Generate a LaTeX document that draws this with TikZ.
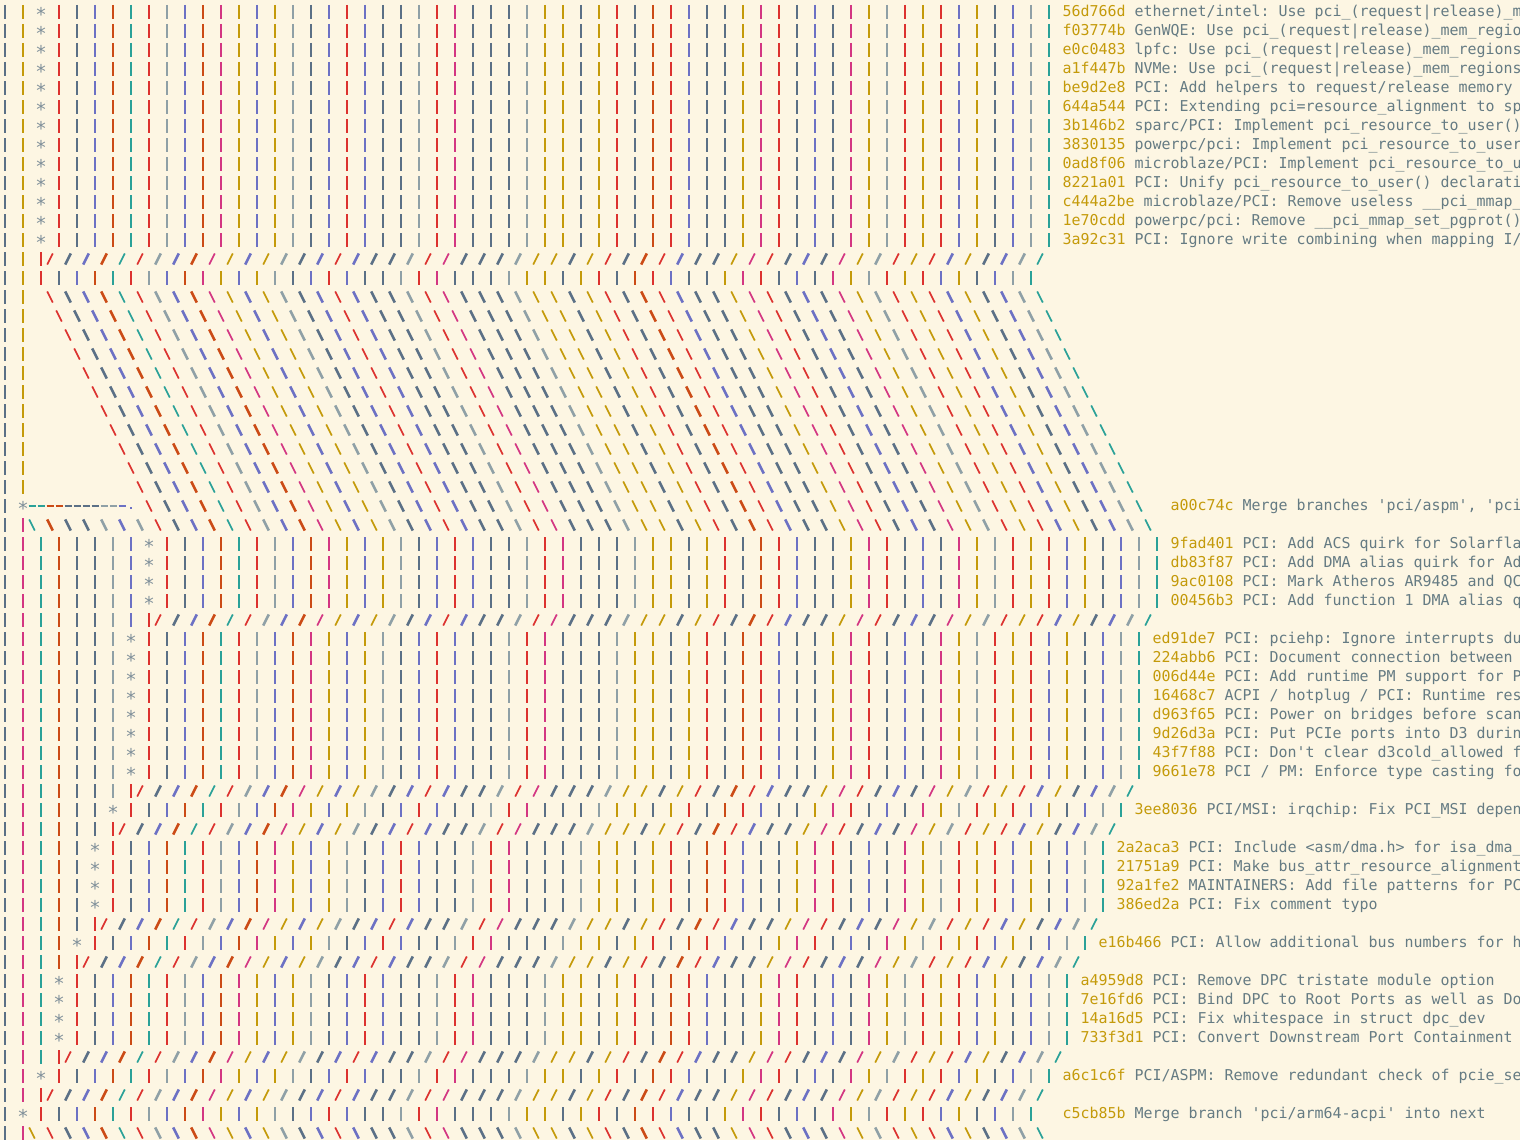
\documentclass[tikz,border=0pt]{standalone}
\usepackage{fontspec}
\newfontfamily\gitfont{DejaVu Sans Mono}
\definecolor{paper}{HTML}{FDF6E3}
\definecolor{slate}{HTML}{5B7086}
\definecolor{ash}{HTML}{8FA0A6}
\definecolor{amber}{HTML}{C49A0A}
\definecolor{crimson}{HTML}{DC322F}
\definecolor{iris}{HTML}{6C71C4}
\definecolor{rust}{HTML}{CB4B16}
\definecolor{jade}{HTML}{2AA198}
\definecolor{rose}{HTML}{D33682}
\definecolor{ink}{HTML}{657B83}
\definecolor{pebble}{HTML}{7F8F99}
\tikzset{
    lane/.style={draw=#1,wd #1},
    wd slate/.style={line width=2.6},
    wd ash/.style={line width=2.6},
    wd iris/.style={line width=2.6},
    wd rust/.style={line width=2.6},
    wd amber/.style={line width=1.7},
    wd crimson/.style={line width=1.7},
    wd jade/.style={line width=1.7},
    wd rose/.style={line width=1.7},
    commit/.style={text=pebble,font=\gitfont\fontsize{19}{19}\selectfont,inner sep=0,anchor=base},
    msg/.style={text=ink,font=\gitfont\fontsize{14.95}{19}\selectfont\frenchspacing,inner sep=0,anchor=base west}
}
\def\idcols{crimson,slate,iris,rust,jade,crimson,ash,iris,rust,rose,amber,iris,amber,ash,slate,iris,crimson,iris,slate,slate,ash,crimson,rose,slate,slate,slate,ash,amber,amber,slate,amber,crimson,slate,rust,crimson,iris,slate,slate,amber,rose,crimson,slate,iris,slate,rose,amber,ash,crimson,amber,crimson,iris,amber,slate,iris,ash,jade}
\def\pcols{rose,jade,rust,slate,slate,ash,iris,ash}
\newcommand\vbar[3]{\edef\lanedraw{\noexpand\draw[lane=#3]}\lanedraw ({5+9*(#1)},{5+19*(#2)}) -- ++(0,14);}
\newcommand\fwd[3]{\edef\lanedraw{\noexpand\draw[lane=#3]}\lanedraw ({2.2+9*(#1)},{17.5+19*(#2)}) -- ++(5.6,-11);}
\newcommand\bck[3]{\edef\lanedraw{\noexpand\draw[lane=#3]}\lanedraw ({2.2+9*(#1)},{6.5+19*(#2)}) -- ++(5.6,11);}
\newcommand\tail[3]{\foreach \cc [count=\m from 0] in \idcols {#3{#1+2*\m}{#2}{\cc}}}
\newcommand\head[2]{\vbar{0}{#1}{slate}\foreach \cc [count=\i from 0] in \pcols {\ifnum\i<#2\relax\vbar{2+2*\i}{#1}{\cc}\fi}}
\newcommand\msg[4]{\node[msg] (msg#1) at ({0.5+9*(#2)},{16.3+19*(#1)}) {\textcolor{amber}{#3} #4};}
\newcommand\commit[4]{\head{#1}{#2}\node[commit] (c#1) at ({5+9*(2+2*#2)},{21.1+19*(#1)}) {*};\tail{4+2*#2}{#1}{\vbar}\msg{#1}{116+2*#2}{#3}{#4}}
\newcommand\merge[2]{\head{#1}{#2}\vbar{2+2*#2}{#1}{crimson}\tail{3+2*#2}{#1}{\fwd}}
\begin{document}
\begin{tikzpicture}[x=1pt,y=-1pt]
\fill[paper] (0,0) rectangle (1520,1140);
\useasboundingbox (0,0) rectangle (1520,1140);
\clip (0,0) rectangle (1520,1140);
\begin{scope}
\def\pcols{amber}
\commit{0}{1}{56d766d}{ethernet/intel: Use pci\_(request|release)\_m}
\commit{1}{1}{f03774b}{GenWQE: Use pci\_(request|release)\_mem\_regio}
\commit{2}{1}{e0c0483}{lpfc: Use pci\_(request|release)\_mem\_regions}
\commit{3}{1}{a1f447b}{NVMe: Use pci\_(request|release)\_mem\_regions}
\commit{4}{1}{be9d2e8}{PCI: Add helpers to request/release memory}
\commit{5}{1}{644a544}{PCI: Extending pci=resource\_alignment to sp}
\commit{6}{1}{3b146b2}{sparc/PCI: Implement pci\_resource\_to\_user()}
\commit{7}{1}{3830135}{powerpc/pci: Implement pci\_resource\_to\_user}
\commit{8}{1}{0ad8f06}{microblaze/PCI: Implement pci\_resource\_to\_u}
\commit{9}{1}{8221a01}{PCI: Unify pci\_resource\_to\_user() declarati}
\commit{10}{1}{c444a2be}{microblaze/PCI: Remove useless \_\_pci\_mmap\_}
\commit{11}{1}{1e70cdd}{powerpc/pci: Remove \_\_pci\_mmap\_set\_pgprot()}
\commit{12}{1}{3a92c31}{PCI: Ignore write combining when mapping I/}
\merge{13}{1}
\head{14}{1}\tail{4}{14}{\vbar}
\foreach \r in {15,...,25}{\head{\r}{1}\tail{\r-10}{\r}{\bck}}
\end{scope}
\vbar{0}{26}{slate}
\node[commit] (c26) at ({5+9*2},{21.1+19*26}) {*};
\foreach \cc [count=\i from 3] in {jade,jade,rust,rust,slate,slate,slate,slate,ash,ash,iris}
    {\draw[draw=\cc,line width=2] ({1.5+9*\i},{12+19*26}) -- ++(7,0);}
\fill[iris] ({3.7+9*14},{12.5+19*26}) rectangle ++(2.6,2.6);
\tail{16}{26}{\bck}
\msg{26}{130}{a00c74c}{Merge branches 'pci/aspm', 'pci}
\vbar{0}{27}{slate}\vbar{2}{27}{rose}
\foreach \cc [count=\i from 0] in {jade,rust,slate,slate,ash,iris,ash}{\bck{3+2*\i}{27}{\cc}}
\tail{17}{27}{\bck}
\commit{28}{7}{9fad401}{PCI: Add ACS quirk for Solarfla}
\commit{29}{7}{db83f87}{PCI: Add DMA alias quirk for Ad}
\commit{30}{7}{9ac0108}{PCI: Mark Atheros AR9485 and QC}
\commit{31}{7}{00456b3}{PCI: Add function 1 DMA alias q}
\merge{32}{7}
\commit{33}{6}{ed91de7}{PCI: pciehp: Ignore interrupts du}
\commit{34}{6}{224abb6}{PCI: Document connection between}
\commit{35}{6}{006d44e}{PCI: Add runtime PM support for P}
\commit{36}{6}{16468c7}{ACPI / hotplug / PCI: Runtime res}
\commit{37}{6}{d963f65}{PCI: Power on bridges before scan}
\commit{38}{6}{9d26d3a}{PCI: Put PCIe ports into D3 durin}
\commit{39}{6}{43f7f88}{PCI: Don't clear d3cold\_allowed f}
\commit{40}{6}{9661e78}{PCI / PM: Enforce type casting fo}
\merge{41}{6}
\commit{42}{5}{3ee8036}{PCI/MSI: irqchip: Fix PCI\_MSI depen}
\merge{43}{5}
\commit{44}{4}{2a2aca3}{PCI: Include <asm/dma.h> for isa\_dma\_}
\commit{45}{4}{21751a9}{PCI: Make bus\_attr\_resource\_alignment}
\commit{46}{4}{92a1fe2}{MAINTAINERS: Add file patterns for PC}
\commit{47}{4}{386ed2a}{PCI: Fix comment typo}
\merge{48}{4}
\commit{49}{3}{e16b466}{PCI: Allow additional bus numbers for h}
\merge{50}{3}
\commit{51}{2}{a4959d8}{PCI: Remove DPC tristate module option}
\commit{52}{2}{7e16fd6}{PCI: Bind DPC to Root Ports as well as Do}
\commit{53}{2}{14a16d5}{PCI: Fix whitespace in struct dpc\_dev}
\commit{54}{2}{733f3d1}{PCI: Convert Downstream Port Containment}
\merge{55}{2}
\commit{56}{1}{a6c1c6f}{PCI/ASPM: Remove redundant check of pcie\_se}
\merge{57}{1}
\vbar{0}{58}{slate}
\node[commit] (c58) at ({5+9*2},{21.1+19*58}) {*};
\tail{4}{58}{\vbar}
\msg{58}{118}{c5cb85b}{Merge branch 'pci/arm64-acpi' into next}
\vbar{0}{59}{slate}\vbar{2}{59}{rose}\bck{3}{59}{amber}
\tail{5}{59}{\bck}
\end{tikzpicture}
\end{document}
